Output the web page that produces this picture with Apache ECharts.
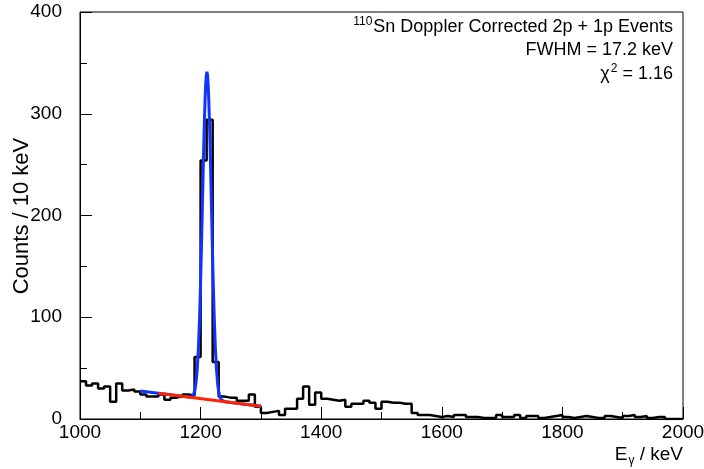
<!DOCTYPE html>
<html>
<head>
<meta charset="utf-8">
<script src="https://cdn.jsdelivr.net/npm/echarts@6/dist/echarts.min.js"></script>
<style>
  html, body {margin: 0; padding: 0; background: #fff;}
  #chart {width: 704px; height: 469px;}
</style>
</head>
<body>
<div id="chart"></div>
<script>
// histogram: 10 keV bins from 1000 keV
const firstBin = 1000;
const binWidth = 10;
const counts = [
    37, 33, 35, 30, 32, 17, 35, 28, 29, 27,     // 1000
    24, 22, 22, 24, 19, 21, 22, 24, 23, 61,     // 1100
    254, 294, 56, 22, 21, 21, 18, 18, 24, 12,   // 1200
    6, 7, 8, 4, 10, 10, 20, 32, 14, 26,         // 1300
    20, 19, 18, 19, 12, 15, 15, 18, 16, 10,     // 1400
    17, 16, 16, 15, 15, 6, 4, 4, 3, 2,          // 1500
    3, 2, 4, 4, 2, 2, 1, 1, 1, 4,               // 1600
    2, 2, 4, 1, 3, 3, 1, 2, 3, 4,               // 1700
    2, 1, 2, 3, 2, 1, 1, 3, 2, 1,               // 1800
    3, 4, 2, 3, 1, 2, 2, 0, 0, 0                // 1900
];

// gaussian + linear fit curve
const fitEnergy = [1100, 1120, 1140, 1160, 1180, 1184.5, 1186.5, 1188.5, 1190.5, 1192.5,
    1194.5, 1196.5, 1198.5, 1200.5, 1202.5, 1204.5, 1205.5, 1206.5, 1207.5, 1208.5,
    1209.5, 1210.5, 1211.5, 1212.5, 1213.5, 1214.5, 1215.5, 1216.5, 1218.5, 1220.5,
    1222.5, 1224.5, 1226.5, 1228.5, 1230.5, 1232.5, 1234.5, 1236.5, 1240, 1260, 1280, 1300];
const fitCounts = [27.5, 26.0, 24.5, 23.0, 21.5, 21.7, 22.5, 24.3, 28.3, 36.0,
    49.5, 71.5, 103.5, 146.0, 196.5, 249.4, 274.2, 296.7, 315.3, 329.5,
    338.3, 341.2, 338.1, 329.2, 315.0, 296.1, 273.4, 248.5, 195.3, 144.5,
    101.7, 69.4, 47.1, 33.3, 25.3, 21.0, 18.9, 17.8, 17.0, 15.5, 14.0, 12.5];

// background line
const bgEnergy = [1130, 1300];
const bgCounts = [25.3, 12.5];

const font = 'Liberation Sans, Arial, Helvetica, sans-serif';

const histData = counts.map((c, i) => [firstBin + i * binWidth, c]);
histData.push([firstBin + counts.length * binWidth, counts[counts.length - 1]]);

const chart = echarts.init(document.getElementById('chart'));
chart.setOption({
    animation: false,
    backgroundColor: '#fff',
    grid: {
        left: 80, right: 21, top: 12, bottom: 50,
        outerBoundsMode: 'none',
        containLabel: false,
        show: true, borderColor: '#000', borderWidth: 1
    },
    xAxis: {
        type: 'value',
        min: 1000, max: 2000, interval: 200,
        axisLine: {show: true, lineStyle: {color: '#000', width: 1}},
        axisTick: {inside: true, length: 12, lineStyle: {color: '#000'}},
        minorTick: {show: true, splitNumber: 2, length: 7, lineStyle: {color: '#000'}},
        splitLine: {show: false},
        axisLabel: {
            color: '#000', fontSize: 19, fontFamily: font, margin: 4,
            formatter: v => String(v)
        }
    },
    yAxis: {
        type: 'value',
        min: 0, max: 400, interval: 100,
        axisLine: {show: true, lineStyle: {color: '#000', width: 1}},
        axisTick: {inside: true, length: 12, lineStyle: {color: '#000'}},
        minorTick: {show: true, splitNumber: 2, length: 7, lineStyle: {color: '#000'}},
        splitLine: {show: false},
        axisLabel: {color: '#000', fontSize: 19, fontFamily: font, margin: 18}
    },
    graphic: [
        {
            // y axis title
            type: 'text', x: 22, y: 216, rotation: Math.PI / 2,
            style: {
                text: 'Counts / 10 keV',
                textAlign: 'center', textVerticalAlign: 'middle',
                font: '22px ' + font, fill: '#000'
            }
        },
        {
            type: 'text', x: 683, y: 455,
            style: {
                text: '{n|E}{sub|γ}{n| / keV}',
                textAlign: 'right', textVerticalAlign: 'middle',
                fill: '#000',
                rich: {
                    n: {fontSize: 19, fontFamily: font, fill: '#000'},
                    sub: {fontSize: 12, fontFamily: font, fill: '#000', padding: [11, 0, 0, 1]}
                }
            }
        },
        {
            type: 'text', x: 673, y: 27,
            style: {
                text: '{sup|110}{n|Sn Doppler Corrected 2p + 1p Events}',
                textAlign: 'right', textVerticalAlign: 'middle',
                fill: '#000',
                rich: {
                    n: {fontSize: 18, fontFamily: font, fill: '#000'},
                    sup: {fontSize: 12, fontFamily: font, fill: '#000', padding: [0, 1, 10, 0]}
                }
            }
        },
        {
            type: 'text', x: 673, y: 50,
            style: {
                text: 'FWHM = 17.2 keV',
                textAlign: 'right', textVerticalAlign: 'middle',
                font: '18px ' + font, fill: '#000'
            }
        },
        {
            type: 'text', x: 673, y: 74,
            style: {
                text: '{n|χ}{sup|2}{n| = 1.16}',
                textAlign: 'right', textVerticalAlign: 'middle',
                fill: '#000',
                rich: {
                    n: {fontSize: 18, fontFamily: font, fill: '#000'},
                    sup: {fontSize: 12, fontFamily: font, fill: '#000', padding: [0, 0, 10, 1]}
                }
            }
        }
    ],
    series: [
        {
            name: 'data',
            type: 'line',
            step: 'end',
            data: histData,
            showSymbol: false,
            lineStyle: {color: '#000', width: 2.5},
            z: 2
        },
        {
            name: 'fit',
            type: 'line',
            data: fitEnergy.map((e, i) => [e, fitCounts[i]]),
            showSymbol: false,
            lineStyle: {color: '#1133ff', width: 3},
            z: 3
        },
        {
            name: 'background',
            type: 'line',
            data: bgEnergy.map((e, i) => [e, bgCounts[i]]),
            showSymbol: false,
            lineStyle: {color: '#ff2200', width: 3},
            z: 4
        }
    ]
});
</script>
</body>
</html>
